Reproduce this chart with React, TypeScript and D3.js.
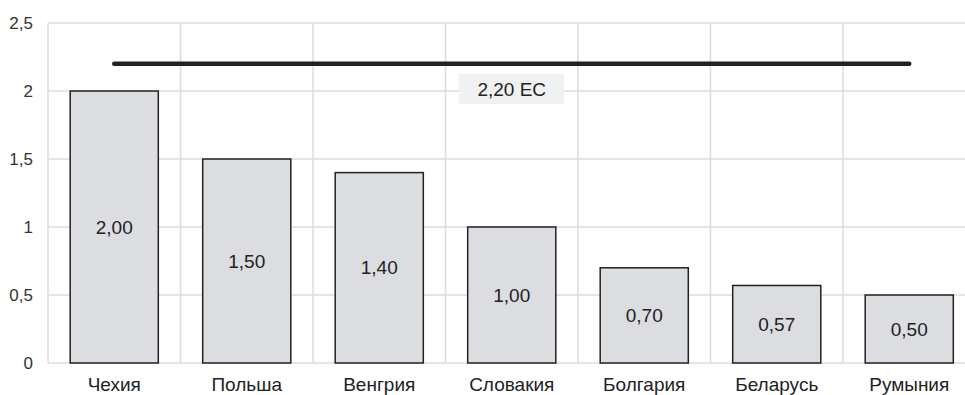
import React from "react";
import * as d3 from "d3";

const countries = ["Чехия", "Польша", "Венгрия", "Словакия", "Болгария", "Беларусь", "Румыния"];
const values = [2.0, 1.5, 1.4, 1.0, 0.7, 0.57, 0.5];
const yTicks = [0, 0.5, 1, 1.5, 2, 2.5];
const euLevel = 2.2;
const euLabel = "2,20 ЕС";

const W = 965;
const H = 395;
const left = 48;
const right = 975.5;
const top = 23;
const bottom = 363;

const fmt = (v: number, d: number) => v.toFixed(d).replace(".", ",");

export default function App() {
  const x = d3.scaleBand<string>().domain(countries).range([left, right]).paddingInner(0).paddingOuter(0);
  const y = d3.scaleLinear().domain([0, 2.5]).range([bottom, top]);
  const bw = x.bandwidth();
  const barW = bw * 0.665;
  const font = "'Liberation Sans', Arial, sans-serif";
  const x0 = (x(countries[0]) as number) + bw / 2;
  const x1 = (x(countries[countries.length - 1]) as number) + bw / 2;
  const lineY = y(euLevel);
  const mid = (x0 + x1) / 2;

  return (
    <svg width={W} height={H} style={{ position: "absolute", left: 0, top: 0 }} fontFamily={font}>
      <rect width={W} height={H} fill="#fff" />
      {/* grid */}
      {yTicks.map((t) => (
        <line key={"h" + t} x1={left} x2={W} y1={y(t)} y2={y(t)} stroke="#dcdcdc" strokeWidth={1.5} />
      ))}
      {countries.map((c) => (
        <line key={"v" + c} x1={x(c)} x2={x(c)} y1={top} y2={bottom} stroke="#dcdcdc" strokeWidth={1.5} />
      ))}
      {/* y tick labels */}
      {yTicks.map((t) => (
        <text key={"t" + t} x={33} y={y(t)} dy="0.35em" textAnchor="end" fontSize={17} fill="#333">
          {t === 0 ? "0" : Number.isInteger(t) ? String(t) : fmt(t, 1)}
        </text>
      ))}
      {/* bars */}
      {countries.map((c, i) => {
        const cx = (x(c) as number) + bw / 2;
        return (
          <g key={c}>
            <rect x={cx - barW / 2} y={y(values[i])} width={barW} height={bottom - y(values[i])} fill="#dcdde0" stroke="#222" strokeWidth={1.5} />
            <text x={cx} y={(y(values[i]) + bottom) / 2} dy="0.35em" textAnchor="middle" fontSize={19} fill="#222">
              {fmt(values[i], 2)}
            </text>
            <text x={cx} y={384} dy="0.35em" textAnchor="middle" fontSize={19} fill="#222">
              {c}
            </text>
          </g>
        );
      })}
      {/* EU reference line */}
      <line x1={x0} x2={x1} y1={lineY} y2={lineY} stroke="#222" strokeWidth={4.5} strokeLinecap="round" />
      <rect x={mid - 53} y={74} width={105} height={30} fill="#f0f1f2" />
      <text x={mid} y={89} dy="0.35em" textAnchor="middle" fontSize={19} fill="#222">
        {euLabel}
      </text>
    </svg>
  );
}
